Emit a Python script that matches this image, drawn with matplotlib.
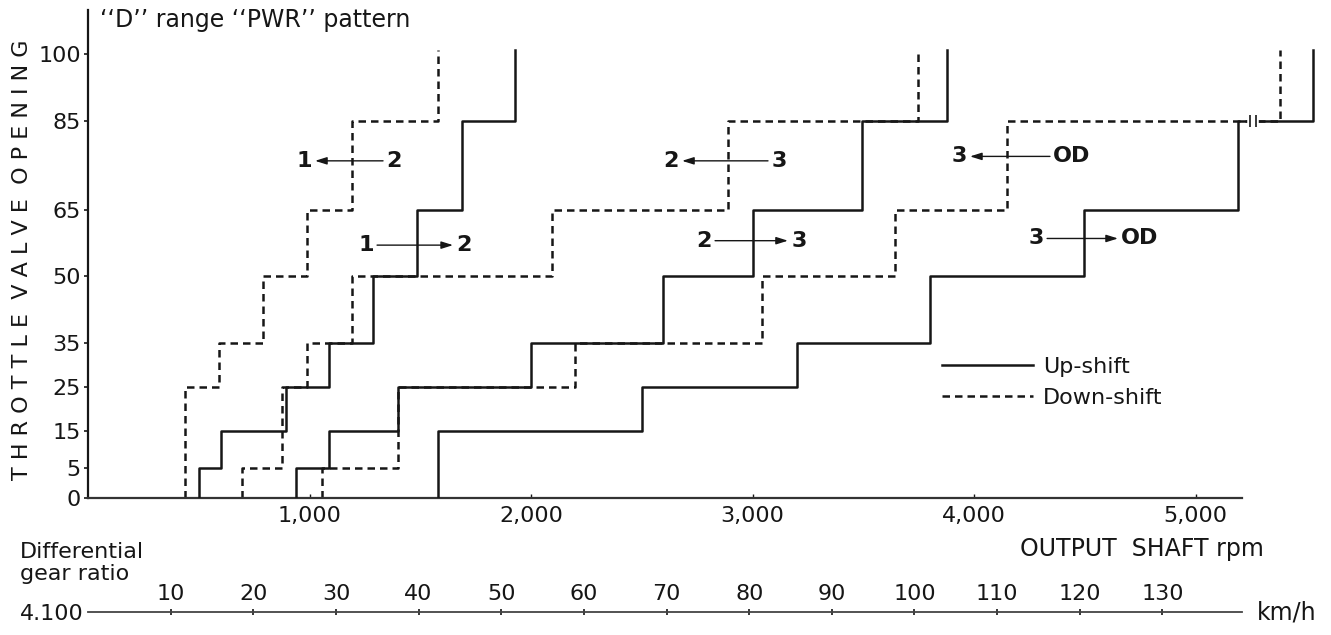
import numpy as np
import matplotlib
matplotlib.use("Agg")
import matplotlib.pyplot as plt

plt.rcParams['font.family'] = 'DejaVu Sans'

# throttle opening breakpoints (%) and the shift points (output shaft rpm)
# each rpm value is the vertical step between thr[i] and thr[i+1]
thr_up12 = [0, 5, 15, 25, 35, 50, 65, 85, 101]
rpm_up12 = [500, 600, 895, 1090, 1285, 1485, 1690, 1930]
thr_dn21 = [0, 25, 35, 50, 65, 85, 101]
rpm_dn21 = [440, 590, 790, 990, 1190, 1580]

thr_up23 = [0, 5, 15, 25, 35, 50, 65, 85, 101]
rpm_up23 = [940, 1090, 1400, 2000, 2595, 3000, 3495, 3880]
thr_dn32 = [0, 5, 25, 35, 50, 65, 85, 101]
rpm_dn32 = [695, 875, 990, 1190, 2095, 2890, 3745]

thr_up3od = [0, 15, 25, 35, 50, 65, 85, 101]
rpm_up3od = [1580, 2500, 3200, 3800, 4495, 5190, 5530]
thr_dn3od = [0, 5, 25, 35, 50, 65, 85, 101]
rpm_dn3od = [1055, 1400, 2200, 3045, 3645, 4150, 5380]

thr_ticks = [0, 5, 15, 25, 35, 50, 65, 85, 100]
rpm_ticks = [1000, 2000, 3000, 4000, 5000]
rpm_tick_labels = ['1,000', '2,000', '3,000', '4,000', '5,000']
kmh_ticks = [10, 20, 30, 40, 50, 60, 70, 80, 90, 100, 110, 120, 130]
kmh_per_rpm = 0.0268   # with 4.100 differential
rpm_axis_end = 5210
break_rpm = 5260

# shift labels: (left, right, arrow start rpm, arrow end rpm, throttle, arrow points left?)
shift_labels = [
    ('1', '2', 1025, 1332, 76, True),
    ('1', '2', 1305, 1648, 57, False),
    ('2', '3', 2682, 3070, 76, True),
    ('2', '3', 2831, 3160, 58, False),
    ('3', 'OD', 3982, 4343, 77, True),
    ('3', 'OD', 4330, 4650, 58.5, False),
]


def step_path(rpm, thr):
    xs, ys = [], []
    for i, r in enumerate(rpm):
        xs += [r, r]
        ys += [thr[i], thr[i + 1]]
    return xs, ys


# the 5% step is drawn a little taller than the rest
def thr_fwd(v):
    return np.interp(v, [0, 5, 15, 200], [0, 6.8, 15, 200])


def thr_inv(v):
    return np.interp(v, [0, 6.8, 15, 200], [0, 5, 15, 200])


W, H = 1331, 635
fig = plt.figure(figsize=(W / 100, H / 100), dpi=100)
ax = fig.add_axes([88 / W, 137 / H, 1240.4 / W, 488 / H])
ax.set_yscale('function', functions=(thr_fwd, thr_inv))

ink = '#161616'
dash = (0, (3, 2))
dn_lines = []
for rpm, thr in [(rpm_dn21, thr_dn21), (rpm_dn32, thr_dn32), (rpm_dn3od, thr_dn3od)]:
    xs, ys = step_path(rpm, thr)
    dn_lines += ax.plot(xs, ys, color=ink, lw=1.8, ls=dash, zorder=2)
up_lines = []
for rpm, thr in [(rpm_up12, thr_up12), (rpm_up23, thr_up23), (rpm_up3od, thr_up3od)]:
    xs, ys = step_path(rpm, thr)
    up_lines += ax.plot(xs, ys, color=ink, lw=1.8, zorder=3)

# break mark on the 85% line
ax.plot([break_rpm - 12, break_rpm + 12], [85, 85], color='white', lw=4, zorder=4)
ax.plot([break_rpm - 12, break_rpm + 12], [85, 85], ls='none', marker='|',
        ms=9, mew=1.2, color=ink, zorder=5)

for left, right, x0, x1, y, to_left in shift_labels:
    tail, tip = (x1, x0) if to_left else (x0, x1)
    ax.annotate('', xy=(tip, y), xytext=(tail, y),
                arrowprops=dict(arrowstyle='-|>,head_length=0.7,head_width=0.22',
                                lw=1.0, color=ink, shrinkA=0, shrinkB=0))
    ax.text(x0 - 15, y, left, ha='right', va='center', fontsize=16,
            fontweight='bold', color=ink)
    ax.text(x1 + 15, y, right, ha='left', va='center', fontsize=16,
            fontweight='bold', color=ink)

ax.set_xlim(0, 5600)
ax.set_ylim(0, 110)
for s in ['top', 'right']:
    ax.spines[s].set_visible(False)
ax.spines['left'].set_linewidth(1.6)
ax.spines['bottom'].set_linewidth(1.6)
ax.spines['left'].set_color(ink)
ax.spines['bottom'].set_color('#333333')
ax.spines['bottom'].set_bounds(0, rpm_axis_end)

ax.set_yticks(thr_ticks)
ax.set_yticklabels([str(t) for t in thr_ticks])
ax.set_xticks(rpm_ticks)
ax.set_xticklabels(rpm_tick_labels)
ax.tick_params(axis='y', direction='out', length=3, width=1.2, pad=2,
               labelsize=16, colors=ink)
ax.tick_params(axis='x', direction='in', length=3, width=1.0, pad=6,
               labelsize=16, colors=ink)

ax.legend([up_lines[0], dn_lines[0]], ['Up-shift', 'Down-shift'],
          loc='upper left', bbox_to_anchor=(942 / W, 1 - 357 / H),
          bbox_transform=fig.transFigure, frameon=False, fontsize=16,
          borderpad=0, borderaxespad=0, handlelength=4.1, handletextpad=0.45,
          labelspacing=0.5, labelcolor=ink)

# km/h scale under the rpm axis
ax2 = fig.add_axes([88 / W, 1 - 612 / H, 1240.4 / W, 0.0001])
ax2.set_xlim(0, 5600 * kmh_per_rpm)
for s in ['left', 'right', 'bottom']:
    ax2.spines[s].set_visible(False)
ax2.spines['top'].set_bounds(0, rpm_axis_end * kmh_per_rpm)
ax2.spines['top'].set_color('#444444')
ax2.spines['top'].set_linewidth(1.3)
ax2.set_yticks([])
ax2.xaxis.set_ticks_position('top')
ax2.set_xticks(kmh_ticks)
ax2.set_xticklabels([str(k) for k in kmh_ticks])
ax2.tick_params(axis='x', direction='inout', length=5, width=1.2, pad=3,
                labelsize=16, colors=ink)

fig.text(100 / W, 1 - 20 / H, '\u2018\u2018D\u2019\u2019 range \u2018\u2018PWR\u2019\u2019 pattern',
         fontsize=17, va='center', ha='left', color=ink)
ylab = '  '.join(' '.join(w) for w in ['THROTTLE', 'VALVE', 'OPENING'])
fig.text(22 / W, 1 - 260 / H, ylab, rotation=90, fontsize=16, va='center',
         ha='center', color=ink)
fig.text(20 / W, 1 - 563 / H, 'Differential\ngear ratio', fontsize=16,
         va='center', ha='left', linespacing=1.15, color=ink)
fig.text(20 / W, 1 - 614 / H, '4.100', fontsize=16, va='center', ha='left', color=ink)
fig.text(1020 / W, 1 - 549 / H, 'OUTPUT  SHAFT rpm', fontsize=17, va='center',
         ha='left', color=ink)
fig.text(1257 / W, 1 - 612 / H, 'km/h', fontsize=17, va='center', ha='left', color=ink)

fig.savefig('out.png', dpi=100)
